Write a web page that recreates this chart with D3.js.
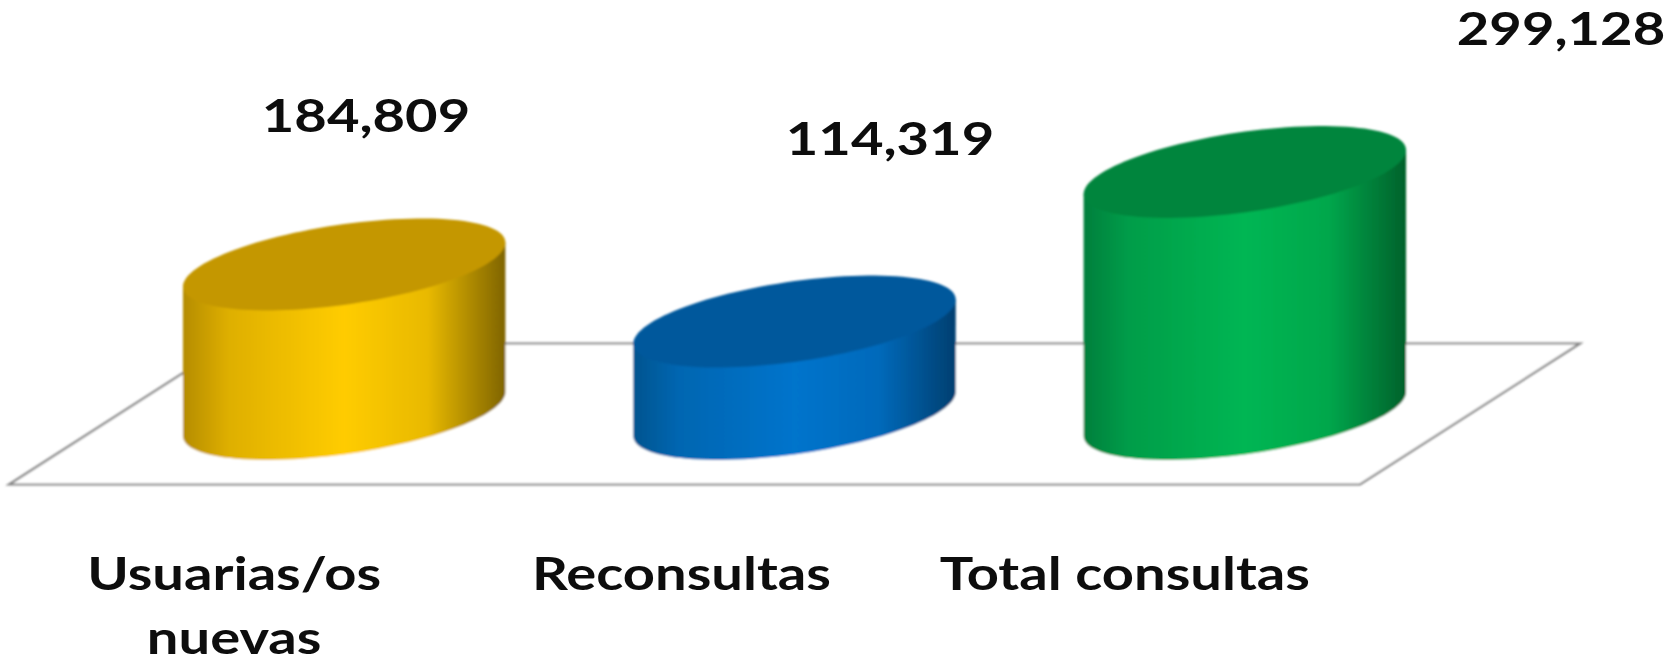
<!DOCTYPE html>
<html>
<head>
<meta charset="utf-8">
<script src="https://cdn.jsdelivr.net/npm/d3@7"></script>
<style>
  html, body { margin: 0; padding: 0; background: #fff; overflow: hidden; }
</style>
</head>
<body>
<div id="chart"></div>
<script>
// data
const categories = ["Usuarias/os nuevas", "Reconsultas", "Total consultas"];
const values = [184809, 114319, 299128];
const valueLabels = ["184,809", "114,319", "299,128"];
const sideColors = [
    ["#b58c00", "#ffcc00", "#7f6400"],
    ["#00548f", "#0074cc", "#003f70"],
    ["#067f3c", "#00b653", "#00612b"]
];
const topColors = ["#c49700", "#00589c", "#06853c"];

const width = 1677;
const height = 663;

// floor of the 3d plot
const floor = { left: 9, right: 1360, front: 484.5, dx: 220, dy: -141 };
const baseY = floor.front + floor.dy / 2;

// label placement, it does not follow the columns in the source picture
const labelX = [366, 890, 1561];
const labelY = [132, 155, 45];
const tickShift = [0, -3, -10];
const textStretch = 1.22; // source text is wider than any installed font

const x = d3.scaleBand().domain(categories).range([floor.left, floor.right]);
const y = d3.scaleLinear().domain([0, d3.max(values)]).range([baseY, 172]);

const rx = x.bandwidth() * 0.358;
const ry = 46;
const skew = 22; // rightmost point of the ellipse sits this far above its centre
const ryInner = Math.sqrt(ry * ry - skew * skew);

const cx = d => x(d) + x.bandwidth() / 2 + floor.dx / 2;

function ellipsePoint(t, cxv, cyv) {
    return [cxv + rx * Math.cos(t), cyv - skew * Math.cos(t) + ryInner * Math.sin(t)];
}

const line = d3.line();

const svg = d3.select("#chart").append("svg")
    .attr("width", width)
    .attr("height", height)
    .attr("viewBox", `0 0 ${width} ${height}`)
    .style("display", "block");

const defs = svg.append("defs");
defs.append("filter").attr("id", "soft")
    .append("feGaussianBlur").attr("stdDeviation", 0.8);
defs.append("filter").attr("id", "softText")
    .attr("x", "-5%").attr("y", "-5%").attr("width", "110%").attr("height", "110%")
    .append("feGaussianBlur").attr("stdDeviation", 0.6);

categories.forEach((c, i) => {
    const [dark, bright, shade] = sideColors[i];
    const g = defs.append("linearGradient").attr("id", "side" + i);
    g.append("stop").attr("offset", "0%").attr("stop-color", dark);
    g.append("stop").attr("offset", "14%").attr("stop-color", d3.interpolateRgb(dark, bright)(0.55));
    g.append("stop").attr("offset", "50%").attr("stop-color", bright);
    g.append("stop").attr("offset", "76%").attr("stop-color", d3.interpolateRgb(bright, shade)(0.18));
    g.append("stop").attr("offset", "100%").attr("stop-color", shade);
});

const plot = svg.append("g").attr("filter", "url(#soft)");

// floor
plot.append("path")
    .attr("d", line([
        [floor.left, floor.front],
        [floor.right, floor.front],
        [floor.right + floor.dx, floor.front + floor.dy],
        [floor.left + floor.dx, floor.front + floor.dy]
    ]) + "Z")
    .attr("fill", "#fff")
    .attr("stroke", "#858585")
    .attr("stroke-width", 2.2);

// columns
const angles = d3.range(0, 181, 3).map(a => a * Math.PI / 180);
categories.forEach((c, i) => {
    const xc = cx(c);
    const yTop = y(values[i]);
    const lower = angles.map(t => ellipsePoint(t, xc, baseY));
    const body = lower.concat([ellipsePoint(Math.PI, xc, yTop), ellipsePoint(0, xc, yTop)]);
    plot.append("path")
        .attr("d", line(body) + "Z")
        .attr("fill", `url(#side${i})`);
    const cap = d3.range(0, 361, 3).map(a => ellipsePoint(a * Math.PI / 180, xc, yTop));
    plot.append("path")
        .attr("d", line(cap) + "Z")
        .attr("fill", topColors[i]);
});

const fontFamily = "Lato, 'Open Sans', sans-serif";

// value labels
svg.append("g")
    .attr("filter", "url(#softText)")
    .selectAll("text")
    .data(valueLabels)
    .join("text")
    .attr("transform", (d, i) => `translate(${labelX[i]},${labelY[i]}) scale(${textStretch},1)`)
    .attr("text-anchor", "middle")
    .attr("font-family", fontFamily)
    .attr("font-weight", 700)
    .attr("font-size", 46)
    .attr("fill", "#111")
    .text(d => d);

// category axis, only the labels are visible
const axis = svg.append("g")
    .attr("transform", `translate(0,${floor.front})`)
    .attr("filter", "url(#softText)")
    .call(d3.axisBottom(x).tickSize(0).tickFormat(""));
axis.select(".domain").remove();

axis.selectAll(".tick text").each(function (d, i) {
    const t = d3.select(this)
        .attr("font-family", fontFamily)
        .attr("font-weight", 700)
        .attr("font-size", 46)
        .attr("fill", "#111")
        .attr("text-anchor", "middle")
        .attr("y", 0)
        .attr("dy", null)
        .attr("transform", `translate(${tickShift[i]},0) scale(${textStretch},1)`);
    const words = i === 0 ? d.split(" ") : [d];
    words.forEach((w, k) => {
        t.append("tspan")
            .attr("x", 0)
            .attr("y", 105.5 + k * 64)
            .text(w);
    });
});
</script>
</body>
</html>
